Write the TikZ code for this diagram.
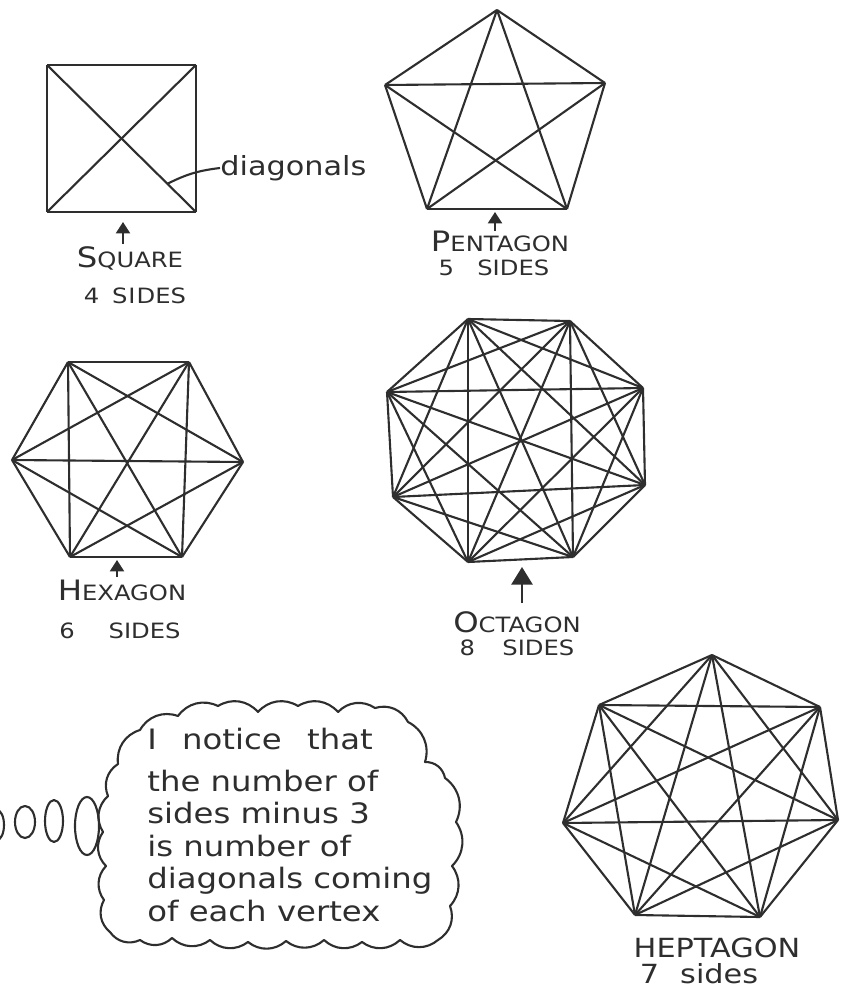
\documentclass[tikz,border=0pt]{standalone}
\usepackage{fontspec}
\newfontfamily\hand[FakeStretch=1.15]{DejaVu Sans}
\usetikzlibrary{arrows.meta}

\definecolor{ink}{HTML}{2E2E2E}

\tikzset{
  polyline/.style={draw=ink, line width=1.2pt, line join=round},
  pointer/.style={draw=ink, fill=ink, line width=1.3pt, -{Triangle[width=8pt,length=6.5pt]}},
  caption/.style={text=ink, font=\hand\fontsize{12}{14}\selectfont, inner sep=0pt},
}

% handwritten small caps
\newcommand{\capfirst}[1]{{\fontsize{16}{16}\selectfont #1}}

\begin{document}
\begin{tikzpicture}[x=0.02cm,y=-0.02cm]

\useasboundingbox (0,0) rectangle (844,993);

% square
\foreach \n/\x/\y in {1/47/65, 2/196/65, 3/196/212, 4/47/212}
  \coordinate (sq\n) at (\x,\y);
\foreach \i in {1,...,4}
  \foreach \j in {1,...,4}
    {\ifnum\i<\j \draw[polyline] (sq\i) -- (sq\j);\fi}

% label for the diagonals
\node[caption, anchor=west, font=\hand\fontsize{15}{15}\selectfont] (diag) at (220,168) {diagonals};
\coordinate (diagfoot) at (167,184);
\draw[polyline] (diagfoot) to[bend left=10] (diag.west);

\coordinate (sqfoot) at (123,244);
\coordinate (sqtip) at (123,222);
\draw[pointer] (sqfoot) -- (sqtip);
\node[caption] (sqname) at (130,258) {\capfirst{S}QUARE};
\node[caption] (sqsides) at (135,296) {4\hspace{0.6em}S\hspace{0.05em}I\hspace{0.05em}DES};

% pentagon
\foreach \n/\x/\y in {1/497/10, 2/605/83, 3/567/209, 4/427/209, 5/385/85}
  \coordinate (pe\n) at (\x,\y);
\foreach \i in {1,...,5}
  \foreach \j in {1,...,5}
    {\ifnum\i<\j \draw[polyline] (pe\i) -- (pe\j);\fi}

\coordinate (pefoot) at (495,231);
\coordinate (petip) at (495,212);
\draw[pointer] (pefoot) -- (petip);
\node[caption] (pename) at (500,241) {\capfirst{P}ENTAGON};
\node[caption] (pesides) at (494,268) {5\hspace{1.1em}SIDES};

% hexagon
\foreach \n/\x/\y in {1/68/362, 2/189/362, 3/243/462, 4/182/557, 5/70/557, 6/12/460}
  \coordinate (hx\n) at (\x,\y);
\foreach \i in {1,...,6}
  \foreach \j in {1,...,6}
    {\ifnum\i<\j \draw[polyline] (hx\i) -- (hx\j);\fi}

\coordinate (hxfoot) at (117,577);
\coordinate (hxtip) at (117,560);
\draw[pointer] (hxfoot) -- (hxtip);
\node[caption] (hxname) at (122,590) {\capfirst{H}EXAGON};
\node[caption] (hxsides) at (120,631) {6\hspace{1.6em}SIDES};

% octagon
\foreach \n/\x/\y in {1/468/319, 2/570/321, 3/643/388, 4/645/485, 5/573/557, 6/468/562, 7/393/497, 8/387/392}
  \coordinate (oc\n) at (\x,\y);
\foreach \i in {1,...,8}
  \foreach \j in {1,...,8}
    {\ifnum\i<\j \draw[polyline] (oc\i) -- (oc\j);\fi}

\coordinate (ocfoot) at (522,603);
\coordinate (octip) at (522,567);
\draw[pointer, -{Triangle[width=12pt,length=10pt]}] (ocfoot) -- (octip);
\node[caption] (ocname) at (517,622) {\capfirst{O}CTAGON};
\node[caption] (ocsides) at (517,648) {8\hspace{1.3em}SIDES};

% heptagon
\foreach \n/\x/\y in {1/712/655, 2/820/707, 3/838/820, 4/760/917, 5/635/915, 6/563/823, 7/599/705}
  \coordinate (hp\n) at (\x,\y);
\foreach \i in {1,...,7}
  \foreach \j in {1,...,7}
    {\ifnum\i<\j \draw[polyline] (hp\i) -- (hp\j);\fi}

\node[caption, font=\hand\fontsize{15}{15}\selectfont] (hpname) at (717,948) {HEPTAGON};
\node[caption, font=\hand\fontsize{15}{15}\selectfont] (hpsides) at (699,974) {7\hspace{0.8em}sides};

% thought bubbles
\draw[polyline] (-3,825) ellipse (7 and 15);
\draw[polyline] (25,822) ellipse (10 and 16);
\draw[polyline] (54,821) ellipse (9 and 21);
\draw[polyline] (87,826) ellipse (12 and 29);

% cloud
\draw[polyline] (110,932)
  \foreach \x/\y in {104/900, 106/866, 103/832, 108/796, 118/764, 140/730,
                     178/716, 218/706, 258/712, 298/706, 338/712, 375/708, 408/722,
                     425/762, 445/778, 456/822, 452/866, 450/906, 438/940,
                     400/940, 362/942, 324/940, 286/941, 248/942, 210/940, 172/938, 140/940, 110/932}
  { to[bend left=40] (\x,\y) };

\node[caption, anchor=north west, align=left,
      font=\hand\fontsize{16}{18.5}\selectfont] (thought) at (147,728)
  {I\hspace{0.9em}notice\hspace{0.9em}that\\[5pt]
   the number of\\
   sides minus 3\\
   is number of\\
   diagonals coming\\
   of each vertex};

\end{tikzpicture}
\end{document}
